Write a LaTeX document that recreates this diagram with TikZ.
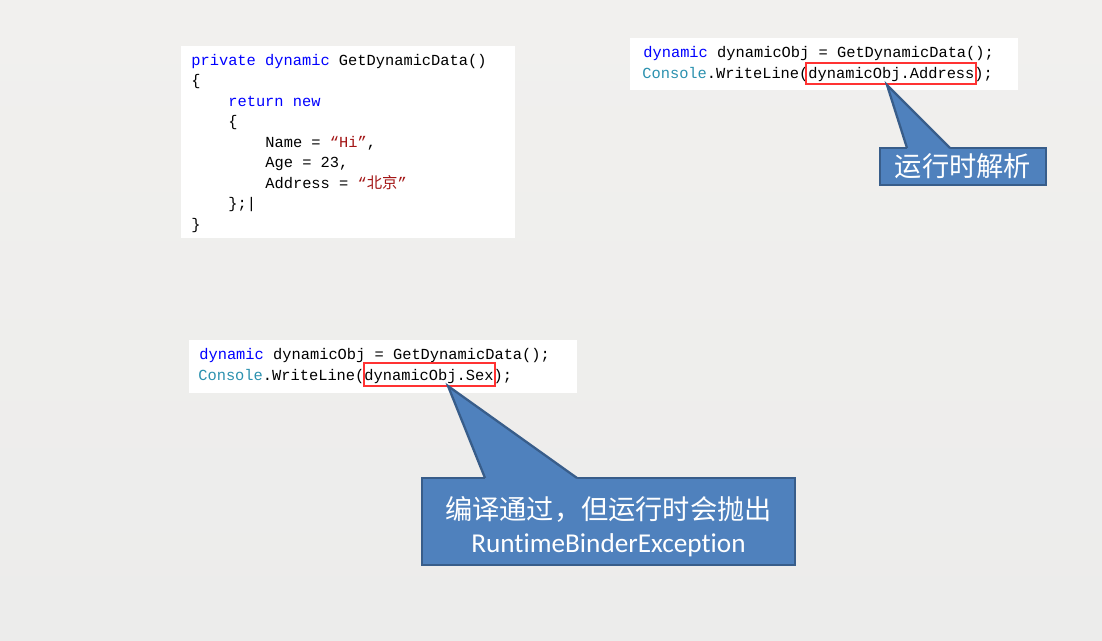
\documentclass[tikz,border=0pt]{standalone}
\usepackage{fontspec}
\setmainfont{Carlito}[Ligatures={NoCommon}]
\setmonofont{Liberation Mono}
\newfontfamily\cjk{Noto Sans CJK SC}
\usetikzlibrary{fit}

\definecolor{bgtop}{RGB}{241,240,238}
\definecolor{bgbot}{RGB}{236,236,235}
\definecolor{kwblue}{RGB}{0,0,255}
\definecolor{typeteal}{RGB}{43,145,175}
\definecolor{strred}{RGB}{163,21,21}
\definecolor{markred}{RGB}{255,50,50}
\definecolor{callfill}{RGB}{79,129,189}
\definecolor{calledge}{RGB}{56,93,138}

\newcommand{\codefont}{\fontsize{8.75}{11}\selectfont\ttfamily}
\newcommand{\kw}[1]{\textcolor{kwblue}{#1}}
\newcommand{\ty}[1]{\textcolor{typeteal}{#1}}
\newcommand{\str}[1]{\textcolor{strred}{#1}}

\tikzset{
  codebox/.style={fill=white, inner sep=0pt},
  code/.style={anchor=base west, inner sep=0pt, font=\codefont},
  markbox/.style={draw=markred, line width=0.8pt, inner sep=0pt},
  callout/.style={fill=callfill, draw=calledge, line width=1.3pt, inner sep=0pt},
  callouttext/.style={text=white, align=center, inner sep=0pt,
    font=\fontsize{15.5}{18.5}\selectfont},
}

\begin{document}
\begin{tikzpicture}[x=0.02cm,y=-0.02cm]
			% page background
			\shade[top color=bgtop, bottom color=bgbot] (0,0) rectangle (1102,640);
			\useasboundingbox (0,0) rectangle (1102,640);

			% method returning an anonymous object
			\node[codebox, fit={(181,46) (515,238)}] (data) {};
			\node[code] (d1) at (191,65) {\kw{private} \kw{dynamic} GetDynamicData()};
			\node[code] (d2) at (191,85.5) {\{};
			\node[code] (d3) at (228,106) {\kw{return} \kw{new}};
			\node[code] (d4) at (228,126.5) {\{};
			\node[code] (d5) at (265,147) {Name = \str{“Hi”},};
			\node[code] (d6) at (265,167.5) {Age = 23,};
			\node[code] (d7) at (265,188) {Address = \str{“{\cjk 北京}”}};
			\node[code] (d8) at (228,208.5) {\};|};
			\node[code] (d9) at (191,229) {\}};

			% call resolved at run time
			\node[codebox, fit={(630,38) (1018,90)}] (use) {};
			\node[code] (u1) at (643,57) {\kw{dynamic} dynamicObj = GetDynamicData();};
			\node[code] (u2) at (642,78) {\ty{Console}.WriteLine(dynamicObj.Address);};
			\node[markbox, fit={(806,63) (976,84)}] (addr) {};

			\node[callout, fit={(880,148) (1046,185)}] (parse) {};
			\node[callouttext] (parsetxt) at (parse.center) {{\cjk 运行时解析}};
			\coordinate (tip1) at (887,85);
			\coordinate (bl1) at (907,148);
			\coordinate (br1) at (950,148);
			\fill[callfill] (bl1) -- (tip1) -- (br1) -- ([yshift=-2pt]br1) -- ([yshift=-2pt]bl1) -- cycle;
			\draw[calledge, line width=1.3pt, line join=miter] (bl1) -- (tip1) -- (br1);

			% call to a missing member
			\node[codebox, fit={(189,340) (577,393)}] (bad) {};
			\node[code] (b1) at (199,359) {\kw{dynamic} dynamicObj = GetDynamicData();};
			\node[code] (b2) at (198,380) {\ty{Console}.WriteLine(dynamicObj.Sex);};
			\node[markbox, fit={(364,363) (495,386)}] (sex) {};

			\node[callout, fit={(422,478) (795,565)}] (fail) {};
			\node[callouttext] (failtxt) at ([yshift=-3pt]fail.center)
				{{\cjk 编译通过，但运行时会抛出}\\RuntimeBinderException};
			\coordinate (tip2) at (448,386);
			\coordinate (bl2) at (485,478);
			\coordinate (br2) at (577,478);
			\fill[callfill] (bl2) -- (tip2) -- (br2) -- ([yshift=-2pt]br2) -- ([yshift=-2pt]bl2) -- cycle;
			\draw[calledge, line width=1.3pt, line join=miter] (bl2) -- (tip2) -- (br2);
\end{tikzpicture}
\end{document}
